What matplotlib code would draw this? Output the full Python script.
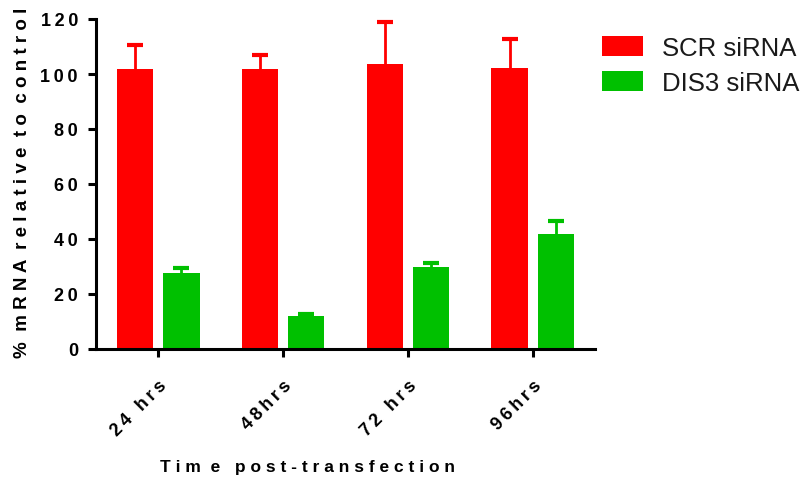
import numpy as np
import matplotlib.pyplot as plt
from matplotlib.patches import Patch

plt.rcParams['font.family'] = ['Liberation Sans', 'DejaVu Sans']

timepoints = ['24 hrs', '48hrs', '72 hrs', '96hrs']
scr_mean = [101.8, 101.7, 103.5, 102.2]
scr_err = [8.9, 5.2, 15.5, 10.6]
dis3_mean = [27.6, 12.0, 29.9, 41.7]
dis3_err = [2.0, 0.6, 1.5, 4.7]

red = '#ff0000'
green = '#00c000'


def spaced(s, sep='\u2009'):
    return sep.join(s)


fig = plt.figure(figsize=(8.11, 4.85), dpi=100)
ax = fig.add_axes([96 / 811, 1 - 350 / 485, 499 / 811, 330 / 485])

x = np.arange(len(timepoints))
off = 0.185
w = 0.29

ax.bar(x - off, scr_mean, w, color=red, zorder=2)
ax.bar(x + off, dis3_mean, w, color=green, zorder=2)
# upper error bars only: hide the lower caps
for xs, m, e, c in [(x - off, scr_mean, scr_err, red),
                    (x + off, dis3_mean, dis3_err, green)]:
    _, caps, _ = ax.errorbar(xs, m, yerr=[np.zeros(4), e], fmt='none',
                             ecolor=c, elinewidth=2, capsize=5.5,
                             capthick=3, zorder=1)
    caps[0].set_visible(False)

ax.set_xlim(-0.5, 3.5)
ax.set_ylim(0, 120)
yt = list(range(0, 121, 20))
ax.set_yticks(yt)
ax.set_yticklabels([spaced(str(v)) for v in yt], fontsize=13, fontweight='bold')
ax.set_xticks(x)
ax.set_xticklabels([spaced(t) for t in timepoints], rotation=45, ha='right',
                   va='top', rotation_mode='anchor', fontsize=13,
                   fontweight='bold')

for side in ['top', 'right']:
    ax.spines[side].set_visible(False)
for side in ['left', 'bottom']:
    ax.spines[side].set_linewidth(2.2)
ax.tick_params(width=2.2, length=6, direction='out')
ax.tick_params(axis='x', pad=14)
ax.tick_params(axis='y', pad=7)

ax.set_ylabel('%  m R N A  r e l a t i v e  t o  c o n t r o l',
              fontsize=13.5, fontweight='bold')
ax.yaxis.set_label_coords(-(96 - 31) / 499, (350 - 183) / 330)
ax.set_xlabel('T i m  e   p o s t - t r a n s f e c t i o n',
              fontsize=12.5, fontweight='bold')
ax.xaxis.set_label_coords((307 - 96) / 499, -(460 - 350) / 330)

handles = [Patch(facecolor=red, label='SCR siRNA'),
           Patch(facecolor=green, label='DIS3 siRNA')]
fig.legend(handles=handles, loc='upper left',
           bbox_to_anchor=(602 / 811, 1 - 37 / 485), frameon=False,
           borderaxespad=0, borderpad=0,
           fontsize=18.5, handlelength=1.6, handleheight=0.82,
           handletextpad=0.72, labelspacing=0.42, labelcolor='#1a1a1a')

fig.savefig('out.png', dpi=100)
